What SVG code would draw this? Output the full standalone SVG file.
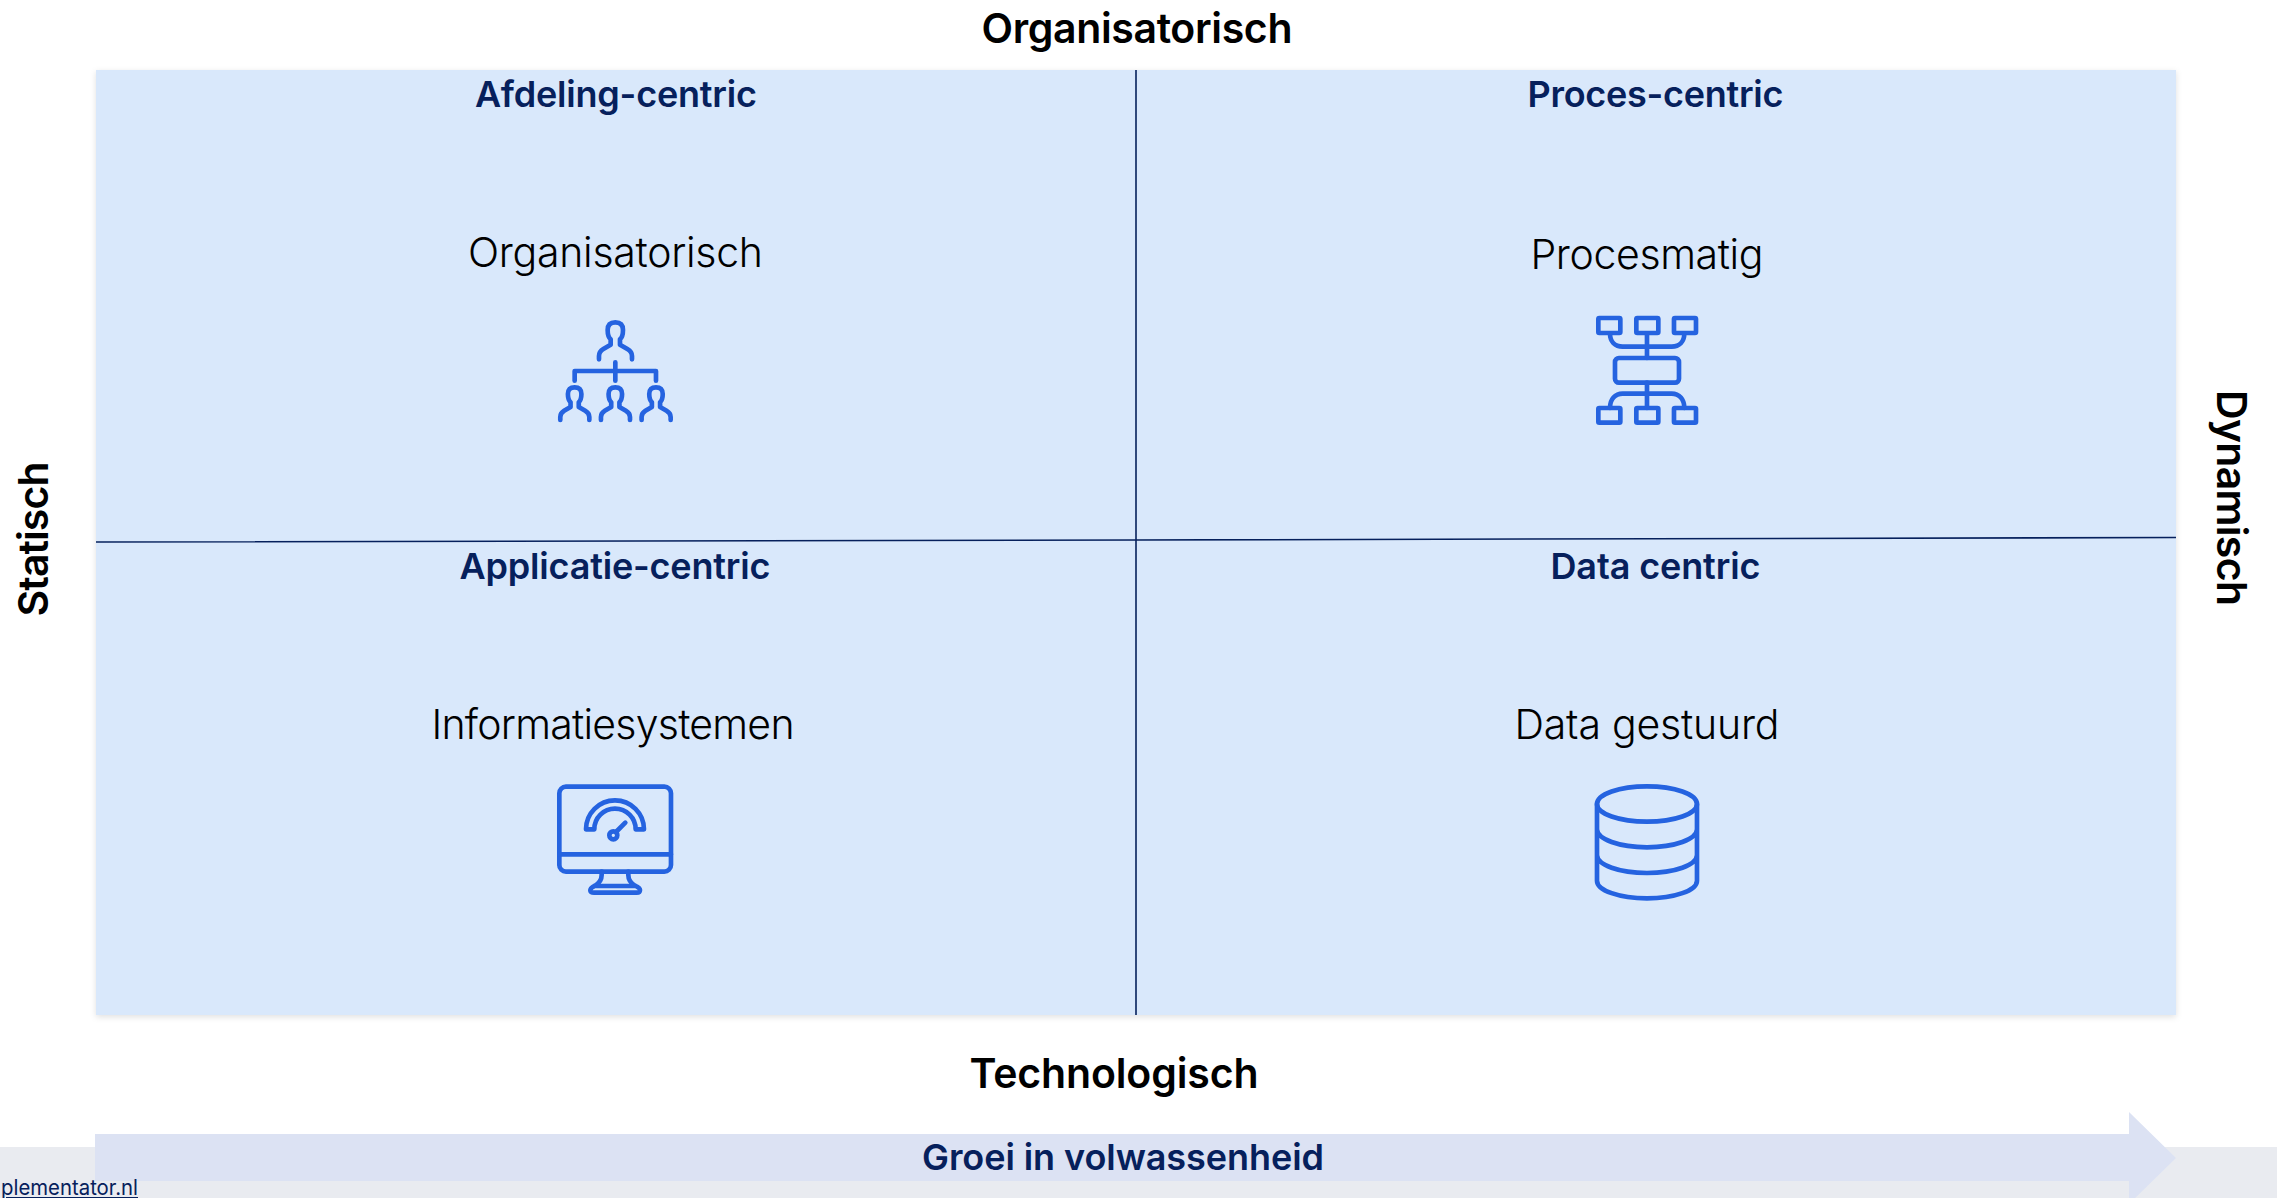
<svg xmlns="http://www.w3.org/2000/svg" width="2277" height="1198" viewBox="0 0 2277 1198">
<style>
text{font-family:"Inter","Liberation Sans",sans-serif;text-anchor:middle;font-variant-ligatures:none}
.axis{font-size:41px;font-weight:600;fill:#000}
.head{font-size:36px;font-weight:600;fill:#06205c}
.body{font-size:41px;font-weight:300;fill:#000}
.ic{fill:none;stroke:#2563e0;stroke-width:14;stroke-linecap:round;stroke-linejoin:round}
.ln{stroke:#06205c;stroke-width:1.6;fill:none}
</style>
<defs>
<filter id="sh" x="-2%" y="-2%" width="104%" height="104%"><feDropShadow dx="0" dy="2" stdDeviation="3" flood-color="#000" flood-opacity=".12"/></filter>
<path id="person" d="M-49 111V101Q-49 88-36 80L-14 67V51Q-23 43-23 23Q-23 0 0 0Q23 0 23 23Q23 43 14 51V67L36 80Q50 88 50 101V111"/>
</defs>
<rect width="2277" height="1198" fill="#fff"/>
<rect x="0" y="1147" width="2277" height="51" fill="#e9ebf0"/>
<rect id="panel" x="96" y="70" width="2080" height="945" fill="#d9e8fb" filter="url(#sh)"/>
<g id="connectors">
<path class="ln" d="M1136 70V1015"/>
<path class="ln" d="M96 542L1136 540L2176 537.500"/>
</g>
<g id="axis-top"><text class="axis" x="1137" y="42.500" textLength="311">Organisatorisch</text></g>
<g id="axis-left"><text class="axis" transform="translate(47.500,539) rotate(-90)" textLength="155">Statisch</text></g>
<g id="axis-right"><text class="axis" transform="translate(2217,498) rotate(90)" textLength="216">Dynamisch</text></g>
<g id="axis-bottom"><text class="axis" x="1114" y="1088" textLength="289">Technologisch</text></g>
<g id="q-afdeling">
<text class="head" x="616" y="107" textLength="282">Afdeling-centric</text>
<text class="body" x="615.500" y="267" textLength="295">Organisatorisch</text>
<g class="ic" transform="translate(500,280) scale(.3333)">
<use href="#person" transform="translate(346,127)"/>
<path d="M224 302V273H468V302M346 247V302"/>
<g style="stroke-width:15.900">
<use href="#person" transform="translate(224,322) scale(.88)"/>
<use href="#person" transform="translate(346,322) scale(.88)"/>
<use href="#person" transform="translate(468,322) scale(.88)"/>
</g>
</g>
</g>
<g id="q-proces">
<text class="head" x="1655.500" y="107" textLength="256">Proces-centric</text>
<text class="body" x="1647" y="269" textLength="233">Procesmatig</text>
<g class="ic" transform="translate(1560,280) scale(.3333)">
<rect x="115" y="114" width="66" height="45" rx="3"/><rect x="229" y="114" width="66" height="45" rx="3"/><rect x="342" y="114" width="66" height="45" rx="3"/>
<rect x="165" y="234" width="192" height="74" rx="12"/>
<rect x="115" y="384" width="66" height="44" rx="3"/><rect x="229" y="384" width="66" height="44" rx="3"/><rect x="342" y="384" width="66" height="44" rx="3"/>
<path d="M150 160C150 185 165 200 188 200H335C358 200 373 185 373 160M261 160V234M261 308V384M150 384C150 358 165 341 188 341H335C358 341 373 358 373 384"/>
</g>
</g>
<g id="q-applicatie">
<text class="head" x="615" y="579" textLength="311">Applicatie-centric</text>
<text class="body" x="613" y="739" textLength="363">Informatiesystemen</text>
<g class="ic" transform="translate(500,760) scale(.3333)">
<rect x="178" y="80" width="335" height="255" rx="20"/>
<path d="M178 283H513M258 208A87 87 0 0 1 432 208H407A62 62 0 0 0 283 208Z"/>
<circle cx="340" cy="226" r="12"/>
<path d="M348 216L376 188M305 335V345Q305 365 285 377Q270 385 271 392Q272 398 282 398H410Q420 398 420 390Q420 384 405 377Q385 365 385 345V335M283 378H407"/>
</g>
</g>
<g id="q-data">
<text class="head" x="1655.500" y="579" textLength="210">Data centric</text>
<text class="body" x="1647" y="739" textLength="265">Data gestuurd</text>
<g class="ic" transform="translate(1560,760) scale(.3333)">
<ellipse cx="261" cy="132" rx="150" ry="53"/>
<path d="M111 132V362A150 53 0 0 0 411 362V132M111 208A150 54 0 0 0 411 208M111 285A150 54 0 0 0 411 285"/>
</g>
</g>
<g id="growth-arrow">
<path d="M95 1134H2129V1112L2176 1158L2129 1204V1181H95Z" fill="#dce2f3"/>
<text class="head" x="1123" y="1170" textLength="402">Groei in volwassenheid</text>
</g>
<g id="footer"><text x="138" y="1195" style="text-anchor:end;font-size:21px;fill:#06205c;text-decoration:underline" textLength="137" lengthAdjust="spacingAndGlyphs">plementator.nl</text></g>
</svg>
